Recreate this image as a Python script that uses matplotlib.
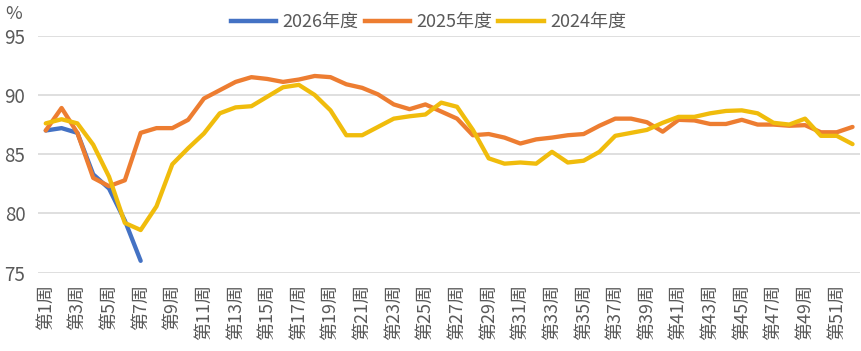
import matplotlib
matplotlib.use("Agg")
import matplotlib.pyplot as plt
from matplotlib.lines import Line2D

plt.rcParams['font.family'] = ['Noto Sans CJK SC', 'DejaVu Sans']

weeks = list(range(1, 53))
tick_labels = [f"第{w}周" for w in weeks]

y2026 = [87.0, 87.2, 86.8, 83.3, 82.1, 79.4, 76.0]

y2025 = [87.0, 88.9, 86.8, 83.0, 82.3, 82.8, 86.8, 87.2, 87.2, 87.9,
         89.7, 90.4, 91.1, 91.5, 91.35, 91.1, 91.3, 91.6, 91.5, 90.9,
         90.6, 90.05, 89.2, 88.8, 89.2, 88.6, 88.0, 86.6, 86.7, 86.4,
         85.9, 86.25, 86.4, 86.6, 86.7, 87.4, 88.0, 88.0, 87.7, 86.9,
         87.9, 87.85, 87.55, 87.55, 87.9, 87.5, 87.5, 87.4, 87.45, 86.85,
         86.85, 87.3]

y2024 = [87.6, 87.95, 87.6, 85.8, 83.1, 79.2, 78.6, 80.6, 84.15, 85.5,
         86.75, 88.45, 88.95, 89.05, 89.85, 90.65, 90.85, 90.0, 88.7, 86.6,
         86.6, 87.3, 88.0, 88.2, 88.35, 89.35, 89.0, 87.05, 84.65, 84.2,
         84.3, 84.2, 85.2, 84.3, 84.45, 85.2, 86.55, 86.8, 87.05, 87.65,
         88.15, 88.15, 88.45, 88.65, 88.7, 88.45, 87.65, 87.5, 88.0, 86.55,
         86.55, 85.85]

series_names = ["2026年度", "2025年度", "2024年度"]
colors = ["#4472C4", "#ED7D31", "#F0BC0C"]
yticks = [75, 80, 85, 90, 95]

fig = plt.figure(figsize=(8.62, 3.51), dpi=100)
ax = fig.add_axes([0.0439, 0.2231, 0.9543, 0.6752])

lw = 3.1
ax.plot(weeks[:len(y2026)], y2026, color=colors[0], lw=lw, solid_capstyle='round', zorder=3)
ax.plot(weeks, y2025, color=colors[1], lw=lw, solid_capstyle='round', zorder=4)
ax.plot(weeks, y2024, color=colors[2], lw=lw, solid_capstyle='round', zorder=5)

ax.set_xlim(0.5, 52.5)
ax.set_ylim(75, 95)
ax.set_yticks(yticks)
ax.set_yticklabels([str(v) for v in yticks])
ax.yaxis.grid(True, color="#D9D9D9", lw=1.2)
ax.set_axisbelow(True)
for s in ax.spines.values():
    s.set_visible(False)
ax.tick_params(axis='both', length=0, colors="#595959")
ax.tick_params(axis='y', labelsize=13.5, pad=9)
ax.set_xticks(weeks[::2])
ax.set_xticklabels(tick_labels[::2], rotation=90, fontsize=13, color="#595959")
ax.tick_params(axis='x', pad=8)

fig.text(0.006, 0.96, "%", fontsize=13, color="#595959", va='center', ha='left')

handles = [Line2D([0], [0], color=c, lw=3.2) for c in colors]
fig.legend(handles, series_names, loc='center', bbox_to_anchor=(0.497, 0.937), ncol=3,
           frameon=False, fontsize=13, handlelength=2.5, handletextpad=0.35,
           columnspacing=0.35, labelcolor="#595959")

fig.savefig("out.png", dpi=100)
